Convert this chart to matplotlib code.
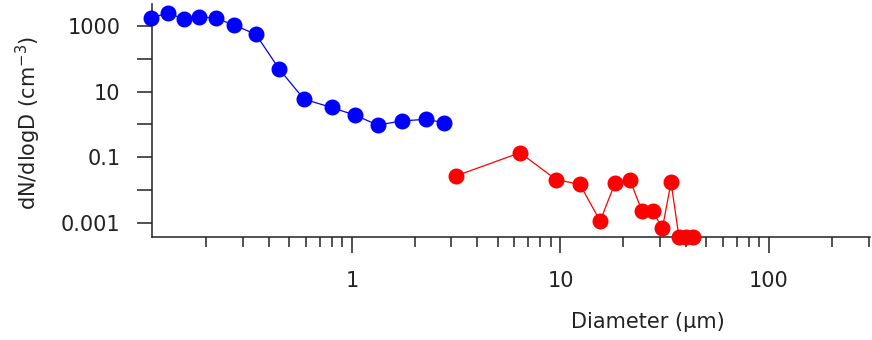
import matplotlib
matplotlib.use("Agg")
import matplotlib.pyplot as plt
from matplotlib.ticker import FixedLocator, FixedFormatter, NullFormatter

# Particle size distributions: fine mode (blue) and coarse mode (red)
blue_diam = [0.109, 0.131, 0.156, 0.185, 0.223, 0.272, 0.346, 0.449,
             0.589, 0.799, 1.04, 1.33, 1.73, 2.26, 2.77]
blue_conc = [1720, 2540, 1630, 1920, 1720, 1070, 560, 48,
             5.9, 3.3, 1.9, 0.96, 1.28, 1.44, 1.13]

red_diam = [3.17, 6.4, 9.52, 12.4, 15.5, 18.3, 21.5, 24.6, 27.7,
            30.8, 33.9, 37.0, 40.1, 43.2]
red_conc = [0.0275, 0.138, 0.0211, 0.0149, 0.00115, 0.0169, 0.0211,
            0.00232, 0.00232, 0.00068, 0.0171, 0.00038, 0.00038, 0.00038]

x_major = [1, 10, 100]
x_labels = ["1", "10", "100"]
y_major = [1e3, 1e2, 1e1, 1e0, 1e-1, 1e-2, 1e-3]
y_labels = ["1000", "", "10", "", "0.1", "", "0.001"]

plt.rcParams["font.family"] = ["DejaVu Sans"]
W, H = 872, 340
fig = plt.figure(figsize=(W / 100, H / 100), dpi=100)
ax = fig.add_axes([152 / W, 1 - 237 / H, (870 - 152) / W, (237 - 4) / H])

ax.set_xscale("log")
ax.set_yscale("log")
ax.set_xlim(0.110, 305)
ax.set_ylim(3.74e-4, 4677)

ax.plot(blue_diam, blue_conc, color="#0000ff", lw=0.9, marker="o",
        ms=10.5, mfc="#0000ff", mec="#0000ff", clip_on=False, zorder=3)
ax.plot(red_diam, red_conc, color="#ff0000", lw=0.9, marker="o",
        ms=10.5, mfc="#ff0000", mec="#ff0000", clip_on=False, zorder=3)

for side in ("top", "right"):
    ax.spines[side].set_visible(False)
for side in ("left", "bottom"):
    ax.spines[side].set_linewidth(1.1)
    ax.spines[side].set_color("#222222")

# x axis: labelled decades with minor ticks at 2..9
ax.xaxis.set_major_locator(FixedLocator(x_major))
ax.xaxis.set_major_formatter(FixedFormatter(x_labels))
minor = [m * 10.0 ** e for e in (-1, 0, 1, 2) for m in range(2, 10)]
minor = [v for v in minor if 0.110 <= v <= 305]
ax.xaxis.set_minor_locator(FixedLocator(minor))
ax.xaxis.set_minor_formatter(NullFormatter())

# y axis: a tick every decade, labels on alternate decades
ax.yaxis.set_major_locator(FixedLocator(y_major))
ax.yaxis.set_major_formatter(FixedFormatter(y_labels))
ax.yaxis.set_minor_locator(FixedLocator([]))

ax.tick_params(axis="x", which="major", direction="out", length=11.5,
               width=1.1, color="#222222", pad=13, labelsize=15,
               labelcolor="#222222")
ax.tick_params(axis="x", which="minor", direction="out", length=7.2,
               width=1.1, color="#222222")
ax.tick_params(axis="y", which="major", direction="out", length=10.8,
               width=1.1, color="#222222", pad=12, labelsize=15,
               labelcolor="#222222")

fig.text(28 / W, 1 - 123 / H, "dN/dlogD (cm$^{-3}$)", rotation=90,
         ha="center", va="center", fontsize=15, color="#222222")
fig.text(647.5 / W, 1 - 322 / H, "Diameter (µm)", ha="center",
         va="center", fontsize=15, color="#222222")

fig.savefig("out.png", dpi=100)
